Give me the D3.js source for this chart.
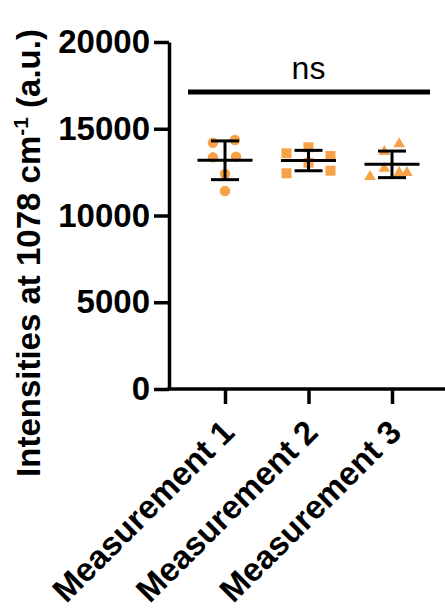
<!DOCTYPE html>
<html>
<head>
<meta charset="utf-8">
<script src="https://cdn.jsdelivr.net/npm/d3@7"></script>
<style>
  html, body { margin: 0; padding: 0; background: #fff; }
  svg { display: block; }
</style>
</head>
<body>
<svg id="chart" width="445" height="610"></svg>
<script>
// ---- data ----
const categories = ["Measurement 1", "Measurement 2", "Measurement 3"];
const measurement1 = [14352, 14196, 13389, 13354, 12392, 11412];
const measurement2 = [13931, 13585, 13429, 13043, 12582, 12432];
const measurement3 = [14121, 13677, 12720, 12467, 12467, 12236];
// horizontal scatter offset of each point (in symbol widths)
const spread1 = [0.9, -1.1, 1.0, -1.1, 0, 0];
const spread2 = [0, -2, 2, 0, 2, -2];
const spread3 = [0.65, -0.7, -0.7, 1.35, 0.65, -2];
const yTicks = [0, 5000, 10000, 15000, 20000];
const sigLabel = "ns";

const seriesValues = [measurement1, measurement2, measurement3];
const seriesSpread = [spread1, spread2, spread3];
const symbols = [d3.symbolCircle, d3.symbolSquare, d3.symbolTriangle];
const symbolSizes = [85, 100, 58];

const orange = "#F7A247";
const font = "'Liberation Sans', Arial, Helvetica, sans-serif";

const svg = d3.select("#chart");
svg.append("rect").attr("width", 445).attr("height", 610).attr("fill", "#fff");

const axisX0 = 169, axisY0 = 389, axisTop = 42, axisRight = 445;
const y = d3.scaleLinear().domain([0, 20000]).range([axisY0, axisTop]);
const x = d3.scalePoint().domain(categories).range([225, 392]);
const slot = 11;

// ---- y axis ----
const yAxis = svg.append("g")
  .attr("transform", `translate(${axisX0},0)`)
  .call(d3.axisLeft(y).tickValues(yTicks).tickSize(15).tickSizeOuter(0).tickPadding(4).tickFormat(d3.format("d")));
yAxis.select(".domain").attr("stroke", "#000").attr("stroke-width", 3.5);
yAxis.selectAll(".tick line").attr("stroke", "#000").attr("stroke-width", 3.5);
yAxis.selectAll(".tick text")
  .attr("fill", "#000")
  .style("font-family", font).style("font-size", "33px").style("font-weight", "bold");

// ---- x axis ----
const xAxis = svg.append("g").attr("transform", `translate(0,${axisY0})`)
  .call(d3.axisBottom(x).tickSize(15).tickSizeOuter(0).tickFormat(""));
xAxis.select(".domain").remove();
xAxis.selectAll(".tick line").attr("stroke", "#000").attr("stroke-width", 3.5);
xAxis.append("line")
  .attr("x1", axisX0 - 1.75).attr("x2", axisRight)
  .attr("y1", 0).attr("y2", 0)
  .attr("stroke", "#000").attr("stroke-width", 3.5);

// rotated category labels
svg.append("g").selectAll("text")
  .data(categories)
  .join("text")
  .attr("transform", d => `translate(${x(d) + 3},426) rotate(-45)`)
  .attr("text-anchor", "end")
  .attr("dy", "0.35em")
  .style("font-family", font).style("font-size", "33px").style("font-weight", "bold")
  .text(d => d);

// y axis title
const yt = svg.append("text")
  .attr("transform", "translate(40,253) rotate(-90)")
  .attr("text-anchor", "middle")
  .style("font-family", font).style("font-size", "33px").style("font-weight", "bold");
yt.append("tspan").text("Intensities at 1078 cm");
yt.append("tspan").attr("dy", -12).style("font-size", "21px").text("-1");
yt.append("tspan").attr("dy", 12).text(" (a.u.)");

// ---- points ----
categories.forEach((c, i) => {
  const vals = seriesValues[i];
  svg.append("g").selectAll("path")
    .data(vals)
    .join("path")
    .attr("d", d3.symbol().type(symbols[i]).size(symbolSizes[i]))
    .attr("transform", (v, j) => `translate(${x(c) + seriesSpread[i][j] * slot},${y(v)})`)
    .attr("fill", orange);
});

// ---- mean and SD bars ----
categories.forEach((c, i) => {
  const vals = seriesValues[i];
  const m = d3.mean(vals), sd = d3.deviation(vals);
  const cx = x(c);
  const g = svg.append("g").attr("stroke", "#000").attr("stroke-width", 3);
  g.append("line").attr("x1", cx - 27.5).attr("x2", cx + 27.5).attr("y1", y(m)).attr("y2", y(m));
  g.append("line").attr("x1", cx).attr("x2", cx).attr("y1", y(m + sd)).attr("y2", y(m - sd));
  g.append("line").attr("x1", cx - 14).attr("x2", cx + 14).attr("y1", y(m + sd)).attr("y2", y(m + sd));
  g.append("line").attr("x1", cx - 14).attr("x2", cx + 14).attr("y1", y(m - sd)).attr("y2", y(m - sd));
});

// ---- significance bar ----
svg.append("line")
  .attr("x1", 188).attr("x2", 430).attr("y1", 92).attr("y2", 92)
  .attr("stroke", "#000").attr("stroke-width", 5);
svg.append("text")
  .attr("x", x(categories[1])).attr("y", 79)
  .attr("text-anchor", "middle")
  .style("font-family", font).style("font-size", "32px")
  .text(sigLabel);
</script>
</body>
</html>
